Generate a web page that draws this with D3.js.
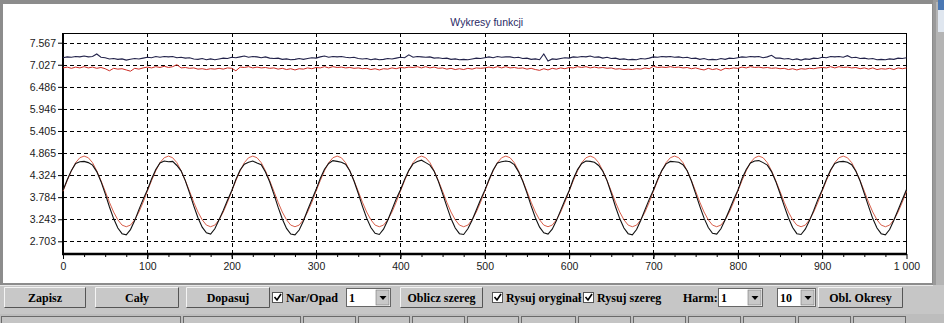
<!DOCTYPE html>
<html>
<head>
<meta charset="utf-8">
<script src="https://cdn.jsdelivr.net/npm/d3@7"></script>
<style>
  html, body { margin: 0; padding: 0; background: #c6c6c6; overflow: hidden; }
  svg { display: block; }
</style>
</head>
<body>
<div id="chart"></div>
<script>
// sampling grid along the x axis (every 5 units from 0 to 1000)
const SAMPLE_STEP = 5;

// upper pair
const origHigh = [
  7.20,7.22,7.21,7.23,7.22,7.24,7.22,7.23,7.29,7.21,7.20,7.17,7.18,7.16,7.17,7.14,7.16,7.18,7.17,7.19,
  7.21,7.20,7.23,7.21,7.23,7.22,7.23,7.20,7.21,7.19,7.20,7.17,7.16,7.18,7.15,7.17,7.15,7.17,7.19,7.18,
  7.21,7.20,7.22,7.24,7.21,7.23,7.22,7.20,7.22,7.19,7.18,7.19,7.16,7.17,7.15,7.16,7.18,7.16,7.18,7.20,
  7.19,7.22,7.24,7.21,7.23,7.22,7.23,7.21,7.20,7.21,7.18,7.17,7.18,7.15,7.17,7.15,7.16,7.18,7.17,7.19,
  7.21,7.20,7.27,7.21,7.23,7.22,7.21,7.22,7.19,7.20,7.18,7.19,7.16,7.17,7.15,7.16,7.15,7.17,7.19,7.18,
  7.20,7.22,7.20,7.23,7.21,7.22,7.22,7.20,7.21,7.18,7.19,7.16,7.17,7.15,7.29,7.12,7.17,7.16,7.18,7.20,
  7.19,7.22,7.21,7.23,7.22,7.24,7.21,7.22,7.19,7.21,7.18,7.19,7.16,7.17,7.15,7.16,7.15,7.18,7.17,7.19,
  7.22,7.21,7.23,7.22,7.23,7.21,7.22,7.20,7.21,7.18,7.19,7.16,7.18,7.15,7.16,7.15,7.18,7.16,7.19,7.18,
  7.20,7.22,7.21,7.23,7.22,7.23,7.20,7.22,7.26,7.19,7.19,7.17,7.18,7.15,7.17,7.14,7.17,7.16,7.19,7.18,
  7.21,7.20,7.23,7.22,7.23,7.21,7.25,7.20,7.21,7.18,7.19,7.17,7.18,7.15,7.16,7.15,7.17,7.16,7.19,7.18,
  7.20
];
const fitHigh = [
  6.95,6.97,6.94,6.97,6.95,6.98,6.95,6.97,6.94,6.96,6.93,6.88,6.94,6.92,6.93,6.90,6.87,6.94,6.92,6.95,
  6.97,6.95,6.98,6.96,6.99,6.96,6.98,7.03,6.95,6.96,6.94,6.95,6.92,6.93,6.91,6.93,6.92,6.94,6.92,6.95,
  6.94,6.88,6.97,6.96,6.98,6.95,6.97,6.95,6.96,6.94,6.95,6.92,6.94,6.91,6.93,6.90,6.93,6.92,6.95,6.93,
  6.96,6.95,6.98,6.95,6.98,6.96,6.97,6.95,6.96,6.94,6.95,6.93,6.94,6.91,6.93,6.90,6.93,6.92,6.95,6.93,
  6.96,6.95,6.97,6.96,6.98,6.95,6.98,6.95,6.97,6.94,6.95,6.92,6.94,6.91,6.93,6.91,6.94,6.92,6.95,6.94,
  6.95,6.97,6.95,6.98,6.95,6.98,6.95,6.96,6.94,6.95,6.92,6.94,6.91,6.89,6.93,6.90,6.94,6.92,6.95,6.93,
  6.96,6.95,6.98,6.96,6.98,6.95,6.97,6.95,6.96,6.94,6.95,6.92,6.93,6.91,6.92,6.91,6.93,6.92,6.95,6.93,
  6.99,6.96,6.97,6.96,6.98,6.96,6.97,6.95,6.96,6.93,6.95,6.92,6.90,6.94,6.91,6.93,6.89,6.94,6.93,6.95,
  6.94,6.97,6.95,6.98,6.96,6.97,6.95,6.96,6.94,6.95,6.93,6.94,6.91,6.93,6.90,6.93,6.92,6.94,6.93,6.95,
  6.96,6.95,6.98,6.95,6.98,6.96,6.97,6.95,6.96,6.93,6.95,6.92,6.95,6.91,6.93,6.92,6.94,6.91,6.95,6.93,
  6.95
];

// lower pair: original signal (black) and fitted series (red)
const origLow = [
  3.95,4.21,4.44,4.61,4.65,4.66,4.63,4.57,4.41,4.17,3.87,3.55,3.26,3.03,2.89,2.86,2.99,3.21,3.48,3.73,
  3.96,4.23,4.46,4.62,4.67,4.65,4.66,4.56,4.43,4.19,3.89,3.57,3.28,3.05,2.91,2.88,3.01,3.23,3.46,3.71,
  3.94,4.22,4.45,4.59,4.64,4.67,4.62,4.58,4.40,4.16,3.86,3.54,3.25,3.02,2.88,2.86,2.98,3.20,3.47,3.72,
  3.97,4.24,4.47,4.61,4.68,4.66,4.64,4.59,4.43,4.18,3.88,3.56,3.27,3.04,2.90,2.87,3.00,3.22,3.48,3.74,
  3.96,4.22,4.44,4.60,4.66,4.69,4.63,4.57,4.42,4.17,3.87,3.56,3.26,3.03,2.89,2.87,3.01,3.22,3.47,3.72,
  3.95,4.21,4.45,4.62,4.65,4.67,4.65,4.58,4.41,4.18,3.89,3.57,3.28,3.05,2.91,2.88,3.00,3.21,3.46,3.71,
  3.94,4.23,4.46,4.61,4.67,4.66,4.64,4.56,4.42,4.19,3.88,3.55,3.26,3.03,2.89,2.86,2.99,3.22,3.48,3.73,
  3.96,4.22,4.44,4.60,4.66,4.65,4.64,4.58,4.43,4.18,3.87,3.56,3.27,3.04,2.90,2.88,3.01,3.23,3.47,3.72,
  3.95,4.24,4.46,4.62,4.67,4.68,4.63,4.57,4.41,4.17,3.88,3.57,3.28,3.04,2.89,2.87,3.00,3.21,3.46,3.73,
  3.96,4.22,4.45,4.61,4.65,4.66,4.64,4.58,4.42,4.18,3.87,3.56,3.26,3.03,2.89,2.86,2.99,3.22,3.47,3.72,
  3.97
];
const fitLow = [
  3.93,4.19,4.43,4.63,4.75,4.79,4.75,4.63,4.43,4.19,3.93,3.66,3.42,3.23,3.10,3.06,3.10,3.23,3.42,3.66,
  3.93,4.19,4.43,4.63,4.75,4.79,4.75,4.63,4.43,4.19,3.93,3.66,3.42,3.23,3.10,3.06,3.10,3.23,3.42,3.66,
  3.93,4.19,4.43,4.63,4.75,4.79,4.75,4.63,4.43,4.19,3.93,3.66,3.42,3.23,3.10,3.06,3.10,3.23,3.42,3.66,
  3.93,4.19,4.43,4.63,4.75,4.79,4.75,4.63,4.43,4.19,3.93,3.66,3.42,3.23,3.10,3.06,3.10,3.23,3.42,3.66,
  3.93,4.19,4.43,4.63,4.75,4.79,4.75,4.63,4.43,4.19,3.93,3.66,3.42,3.23,3.10,3.06,3.10,3.23,3.42,3.66,
  3.93,4.19,4.43,4.63,4.75,4.79,4.75,4.63,4.43,4.19,3.93,3.66,3.42,3.23,3.10,3.06,3.10,3.23,3.42,3.66,
  3.93,4.19,4.43,4.63,4.75,4.79,4.75,4.63,4.43,4.19,3.93,3.66,3.42,3.23,3.10,3.06,3.10,3.23,3.42,3.66,
  3.93,4.19,4.43,4.63,4.75,4.79,4.75,4.63,4.43,4.19,3.93,3.66,3.42,3.23,3.10,3.06,3.10,3.23,3.42,3.66,
  3.93,4.19,4.43,4.63,4.75,4.79,4.75,4.63,4.43,4.19,3.93,3.66,3.42,3.23,3.10,3.06,3.10,3.23,3.42,3.66,
  3.93,4.19,4.43,4.63,4.75,4.79,4.75,4.63,4.43,4.19,3.93,3.66,3.42,3.23,3.10,3.06,3.10,3.23,3.42,3.66,
  3.93
];

const yTickValues = [2.703, 3.243, 3.784, 4.324, 4.865, 5.405, 5.946, 6.486, 7.027, 7.567];
const xTickValues = [0, 100, 200, 300, 400, 500, 600, 700, 800, 900, 1000];
const xTickLabels = ['0', '100', '200', '300', '400', '500', '600', '700', '800', '900', '1 000'];
const yDomain = [2.392, 7.805];
const xDomain = [0, 1000];

const chartTitle = 'Wykresy funkcji';

const W = 944, H = 323;
const plot = { left: 63, right: 906.5, top: 33, bottom: 254 };

const svg = d3.select('#chart').append('svg')
  .attr('width', W).attr('height', H);

// ---------- window chrome ----------
svg.append('rect').attr('x', 0).attr('y', 0).attr('width', W).attr('height', H).attr('fill', '#c6c6c6');
svg.append('rect').attr('x', 0).attr('y', 0).attr('width', 933).attr('height', 285).attr('fill', '#8c8c8c');
svg.append('rect').attr('x', 3).attr('y', 4).attr('width', 929).attr('height', 279).attr('fill', '#ffffff');
// right scrollbar strip
svg.append('rect').attr('x', 933).attr('y', 0).attr('width', 11).attr('height', 285).attr('fill', '#9a9a9a');
svg.append('rect').attr('x', 936).attr('y', 2).attr('width', 8).attr('height', 283).attr('fill', '#b4b4b4');
svg.append('rect').attr('x', 938).attr('y', 0).attr('width', 6).attr('height', 30).attr('fill', '#4a78b4');
svg.append('rect').attr('x', 938).attr('y', 10).attr('width', 6).attr('height', 22).attr('fill', '#dfe6ef');

// ---------- chart ----------
const x = d3.scaleLinear().domain(xDomain).range([plot.left, plot.right]);
const y = d3.scaleLinear().domain(yDomain).range([plot.bottom, plot.top]);

svg.append('text')
  .attr('x', (plot.left + plot.right) / 2 + 2)
  .attr('y', 26)
  .attr('text-anchor', 'middle')
  .attr('font-family', 'Liberation Sans, Arial, sans-serif')
  .attr('font-size', 10.5)
  .attr('fill', '#2a2a66')
  .text(chartTitle);

const grid = svg.append('g').attr('stroke', '#000').attr('stroke-width', 1).attr('stroke-dasharray', '4,3');
grid.selectAll('.hgrid').data(yTickValues).enter().append('line')
  .attr('x1', plot.left).attr('x2', plot.right)
  .attr('y1', d => Math.round(y(d)) + 0.5).attr('y2', d => Math.round(y(d)) + 0.5);
grid.selectAll('.vgrid').data(xTickValues.filter(v => v > 0 && v < 1000)).enter().append('line')
  .attr('y1', plot.top).attr('y2', plot.bottom + 5)
  .attr('x1', d => Math.round(x(d)) + 0.5).attr('x2', d => Math.round(x(d)) + 0.5);

// frame (thin top/right)
svg.append('rect')
  .attr('x', plot.left).attr('y', plot.top + 0.5)
  .attr('width', plot.right - plot.left).attr('height', plot.bottom - plot.top)
  .attr('fill', 'none').attr('stroke', '#000').attr('stroke-width', 1);

// Y axis
const yAxis = svg.append('g')
  .attr('transform', `translate(${plot.left},0)`)
  .call(d3.axisLeft(y).tickValues(yTickValues).tickFormat(d3.format('.3f')).tickSize(5).tickPadding(2))
  .call(g => g.select('.domain').remove());
yAxis.selectAll('text')
  .attr('font-family', 'Liberation Sans, Arial, sans-serif')
  .attr('font-size', 10.5).attr('fill', '#1a1a1a');

// X axis with minor ticks every 25
const xMinor = d3.range(25, 1000, 25);
svg.append('g')
  .attr('transform', `translate(0,${plot.bottom})`)
  .call(d3.axisBottom(x).tickValues(xMinor).tickSize(3).tickFormat(''))
  .call(g => g.select('.domain').remove());
const xAxis = svg.append('g')
  .attr('transform', `translate(0,${plot.bottom})`)
  .call(d3.axisBottom(x).tickValues(xTickValues).tickSize(5).tickPadding(4)
    .tickFormat((d, i) => xTickLabels[i]))
  .call(g => g.select('.domain').remove());
xAxis.selectAll('text')
  .attr('font-family', 'Liberation Sans, Arial, sans-serif')
  .attr('font-size', 10.5).attr('fill', '#1a1a1a');

svg.append('line').attr('x1', plot.left).attr('x2', plot.left)
  .attr('y1', plot.top).attr('y2', plot.bottom + 1)
  .attr('stroke', '#000').attr('stroke-width', 2);
svg.append('line').attr('x1', plot.left - 1).attr('x2', plot.right + 0.5)
  .attr('y1', plot.bottom).attr('y2', plot.bottom)
  .attr('stroke', '#000').attr('stroke-width', 2.5);

// series
const lineGen = d3.line()
  .x((d, i) => x(i * SAMPLE_STEP))
  .y(d => y(d));

const series = [
  { data: fitHigh, color: '#cc2a22', width: 1 },
  { data: origHigh, color: '#22224a', width: 1.1 },
  { data: fitLow, color: '#d8604c', width: 1 },
  { data: origLow, color: '#111111', width: 1.1 }
];
svg.selectAll('.series').data(series).enter().append('path')
  .attr('fill', 'none')
  .attr('stroke', d => d.color)
  .attr('stroke-width', d => d.width)
  .attr('d', d => lineGen(d.data));

// ---------- control bar ----------
const ui = svg.append('g').attr('font-family', 'Liberation Serif, Times New Roman, serif')
  .attr('font-weight', 'bold').attr('font-size', 12);

svg.append('line').attr('x1', 0).attr('x2', 933).attr('y1', 285.5).attr('y2', 285.5).attr('stroke', '#e8e8e8');

function button(x0, w, label) {
  const g = ui.append('g');
  g.append('rect').attr('x', x0).attr('y', 287).attr('width', w).attr('height', 21).attr('fill', '#c8c8c8');
  g.append('path').attr('d', `M${x0 + 0.5},${307.5}V${287.5}H${x0 + w - 0.5}`).attr('stroke', '#f4f4f4').attr('fill', 'none');
  g.append('path').attr('d', `M${x0 + 0.5},${307.5}H${x0 + w - 0.5}V${287.5}`).attr('stroke', '#555').attr('fill', 'none');
  g.append('text').attr('x', x0 + w / 2).attr('y', 302).attr('text-anchor', 'middle').text(label);
}
function checkbox(x0, label) {
  const g = ui.append('g');
  g.append('rect').attr('x', x0 + 0.5).attr('y', 292.5).attr('width', 10).attr('height', 10)
    .attr('fill', '#fff').attr('stroke', '#555');
  g.append('path').attr('d', `M${x0 + 2.5},${297}l2.5,3l4,-6`).attr('stroke', '#000').attr('stroke-width', 1.6).attr('fill', 'none');
  g.append('text').attr('x', x0 + 14).attr('y', 302).text(label);
}
function combo(x0, w, label) {
  const g = ui.append('g');
  g.append('rect').attr('x', x0 + 0.5).attr('y', 288.5).attr('width', w).attr('height', 18)
    .attr('fill', '#fff').attr('stroke', '#666');
  g.append('rect').attr('x', x0 + w - 14).attr('y', 290).attr('width', 13).attr('height', 15).attr('fill', '#c8c8c8')
    .attr('stroke', '#777').attr('stroke-width', 0.6);
  g.append('path').attr('d', `M${x0 + w - 10.5},${296}h7l-3.5,4z`).attr('fill', '#000');
  g.append('text').attr('x', x0 + 3).attr('y', 302).text(label);
}

button(4, 82, 'Zapisz');
button(95, 84, 'Cały');
button(186, 84, 'Dopasuj');
checkbox(272, 'Nar/Opad');
combo(346, 44, '1');
button(400, 83, 'Oblicz  szereg');
checkbox(492, 'Rysuj oryginał');
checkbox(583, 'Rysuj szereg');
ui.append('text').attr('x', 683).attr('y', 302).text('Harm:');
combo(718, 44, '1');
combo(777, 38, '10');
button(818, 85, 'Obl. Okresy');

// status bar panels
svg.append('rect').attr('x', 0).attr('y', 314).attr('width', W).attr('height', 9).attr('fill', '#bdbdbd');
const panelEdges = [0, 182, 302, 357, 411, 466, 520, 577, 632, 687, 742, 797, 852, 907];
svg.selectAll('.panel').data(panelEdges.slice(0, -1)).enter().append('rect')
  .attr('x', (d, i) => d + 1.5).attr('y', 316.5)
  .attr('width', (d, i) => panelEdges[i + 1] - d - 3).attr('height', 10)
  .attr('fill', '#c4c4c4').attr('stroke', '#6a6a6a');
</script>
</body>
</html>
